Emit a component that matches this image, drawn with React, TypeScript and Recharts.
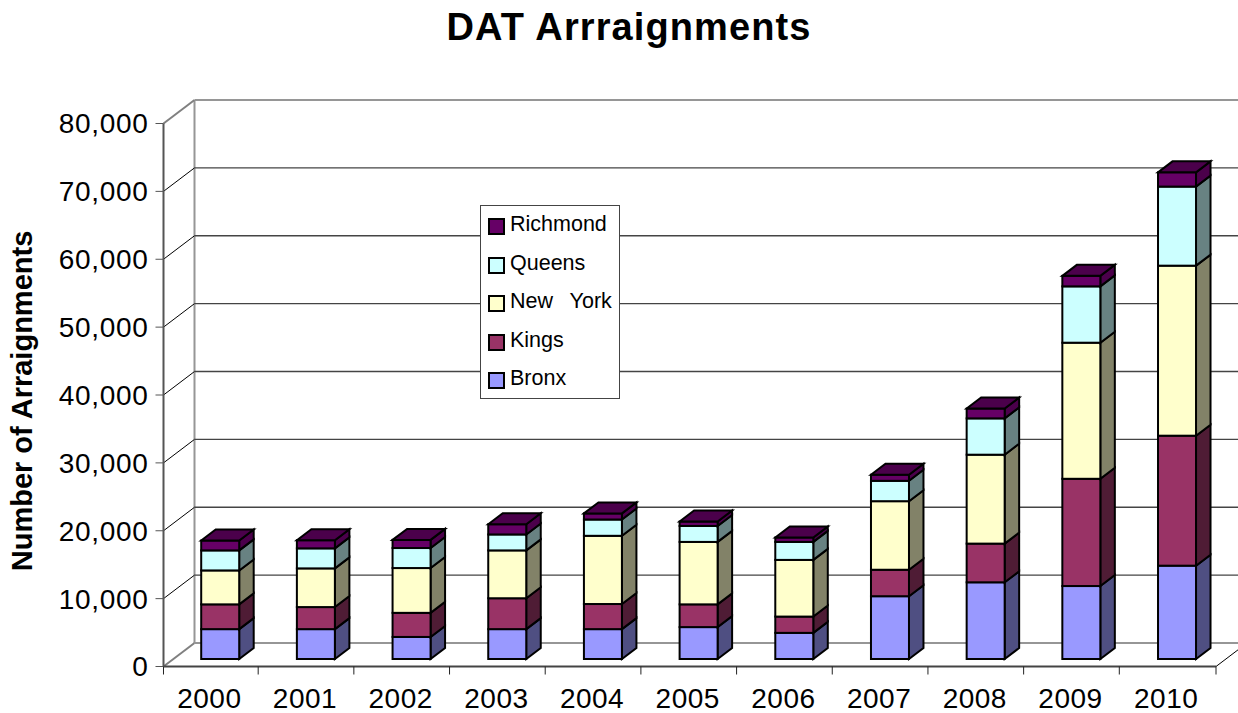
import { Bar, BarChart, CartesianGrid, Legend, XAxis, YAxis } from "recharts";

const years = ["2000", "2001", "2002", "2003", "2004", "2005", "2006", "2007", "2008", "2009", "2010"];
const bronx = [4400, 4400, 3250, 4400, 4400, 4700, 3850, 9250, 11300, 10750, 13750];
const kings = [3650, 3250, 3550, 4550, 3700, 3350, 2400, 3900, 5700, 15800, 19150];
const newYork = [5000, 5700, 6600, 7050, 10050, 9200, 8350, 10100, 13100, 20050, 25050];
const queens = [2950, 2950, 2950, 2350, 2400, 2350, 2650, 3000, 5350, 8300, 11650];
const richmond = [1450, 1200, 1200, 1500, 900, 650, 650, 900, 1450, 1550, 2100];

const yTicks = [0, 10000, 20000, 30000, 40000, 50000, 60000, 70000, 80000];

const data = years.map((year, i) => ({
  year,
  Bronx: bronx[i],
  Kings: kings[i],
  "New York": newYork[i],
  Queens: queens[i],
  Richmond: richmond[i],
}));

const FONT = '"Liberation Sans", Arial, sans-serif';
const WALL_DX = 31;
const WALL_DY = 23.5;
const BAND = 95.7;

const sideColors: Record<string, string> = {
  "#9999ff": "#4f4f82",
  "#993366": "#4f1c35",
  "#ffffcc": "#828268",
  "#ccffff": "#688282",
  "#660066": "#4b004b",
};

function Bar3D(props: any) {
  const { x, y, width, height, fill, isTop } = props;
  const fx = x + 8.7;
  const fy = y - 7.5;
  const dx = 14.5;
  const dy = 11;
  const side = sideColors[fill];
  return (
    <g stroke="#000" strokeWidth={2} strokeLinejoin="miter">
      <polygon
        points={`${fx + width},${fy} ${fx + width + dx},${fy - dy} ${fx + width + dx},${fy + height - dy} ${fx + width},${fy + height}`}
        fill={side}
      />
      <rect x={fx} y={fy} width={width} height={height} fill={fill} />
      {isTop && (
        <polygon
          points={`${fx},${fy} ${fx + dx},${fy - dy} ${fx + width + dx},${fy - dy} ${fx + width},${fy}`}
          fill={side}
        />
      )}
    </g>
  );
}

function WallLine(props: any) {
  const { x1, y1, x2, y, height } = props;
  const isEdge = y1 < 125 || y1 > 660;
  const wallY = y1 - WALL_DY;
  return (
    <g>
      {y1 > 660 && (
        <line x1={x1 + WALL_DX} y1={y - WALL_DY} x2={x1 + WALL_DX} y2={y + height - WALL_DY} stroke="#969696" strokeWidth={2} />
      )}
      <line
        x1={x1}
        y1={y1}
        x2={x1 + WALL_DX}
        y2={wallY}
        stroke={isEdge ? "#808080" : "#000"}
        strokeWidth={isEdge ? 2 : 1}
      />
      <line
        x1={x1 + WALL_DX}
        y1={wallY}
        x2={x2 + WALL_DX}
        y2={wallY}
        stroke={isEdge ? "#969696" : "#444"}
        strokeWidth={isEdge ? 2 : 1.4}
      />
      {y1 > 660 && <line x1={x2} y1={y1} x2={x2 + WALL_DX} y2={wallY} stroke="#000" strokeWidth={1} />}
    </g>
  );
}

function YearTick(props: any) {
  const { x, y, payload, index } = props;
  const half = BAND / 2;
  const markX = index === 0 ? x - half : x - half - 1;
  return (
    <g>
      <line x1={markX} y1={y - 8} x2={markX} y2={y} stroke="#222" strokeWidth={1} />
      {index === years.length - 1 && <line x1={x + half} y1={y - 8} x2={x + half} y2={y} stroke="#222" strokeWidth={1} />}
      <text x={x - 2} y={y + 33} textAnchor="middle" fontSize={28} fontFamily={FONT} letterSpacing={0.5} fill="#000">
        {payload.value}
      </text>
    </g>
  );
}

function LegendBox(props: any) {
  const items = [...(props.payload ?? [])].reverse();
  return (
    <div
      style={{
        width: 140,
        height: 194,
        boxSizing: "border-box",
        background: "#fff",
        border: "1px solid #444",
        fontFamily: FONT,
        fontSize: 21.5,
        color: "#000",
        paddingTop: 5,
      }}
    >
      {items.map((item: any) => (
        <div key={item.value} style={{ position: "relative", height: 38.6 }}>
          <span
            style={{
              position: "absolute",
              left: 7,
              top: 7,
              width: 13,
              height: 13,
              background: item.color,
              border: "2px solid #000",
            }}
          />
          <span style={{ position: "absolute", left: 29, top: 1, whiteSpace: "nowrap", wordSpacing: 11 }}>{item.value}</span>
        </div>
      ))}
    </div>
  );
}

export default function App() {
  return (
    <div style={{ position: "absolute", left: 0, top: 0, width: 1238, height: 713, overflow: "hidden", background: "#fff" }}>
      <BarChart
        width={1238}
        height={713}
        data={data}
        margin={{ top: 123.5, right: 22, bottom: 0, left: 0 }}
        barSize={38}
      >
        <CartesianGrid vertical={false} horizontal={(p: any) => <WallLine key={p.key} {...p} />} />
        <XAxis
          dataKey="year"
          height={46.5}
          axisLine={{ stroke: "#444", strokeWidth: 2 }}
          tickLine={false}
          interval={0}
          tick={<YearTick />}
        />
        <YAxis
          width={163.5}
          domain={[0, 80000]}
          ticks={yTicks}
          interval={0}
          axisLine={{ stroke: "#555", strokeWidth: 2 }}
          tickLine={{ stroke: "#555", strokeWidth: 1 }}
          tickSize={8}
          tickMargin={7}
          tickFormatter={(v: number) => v.toLocaleString("en-US")}
          tick={{ fontSize: 28, fontFamily: FONT, fill: "#000", letterSpacing: 0.7 }}
        />
        <Legend
          layout="horizontal"
          verticalAlign="middle"
          align="center"
          wrapperStyle={{ left: 480, top: 205, width: 140, height: 194 }}
          content={<LegendBox />}
        />
        <Bar dataKey="Bronx" stackId="a" fill="#9999ff" isAnimationActive={false} shape={<Bar3D />} />
        <Bar dataKey="Kings" stackId="a" fill="#993366" isAnimationActive={false} shape={<Bar3D />} />
        <Bar dataKey="New York" stackId="a" fill="#ffffcc" isAnimationActive={false} shape={<Bar3D />} />
        <Bar dataKey="Queens" stackId="a" fill="#ccffff" isAnimationActive={false} shape={<Bar3D />} />
        <Bar dataKey="Richmond" stackId="a" fill="#660066" isAnimationActive={false} shape={<Bar3D isTop />} />
        <text x={629} y={40} textAnchor="middle" fontSize={38} fontWeight="bold" fontFamily={FONT} letterSpacing={1.1} fill="#000">
          DAT Arrraignments
        </text>
        <text
          transform="translate(32,401) rotate(-90)"
          textAnchor="middle"
          fontSize={29}
          fontWeight="bold"
          fontFamily={FONT}
          fill="#000"
        >
          Number of Arraignments
        </text>
      </BarChart>
    </div>
  );
}
